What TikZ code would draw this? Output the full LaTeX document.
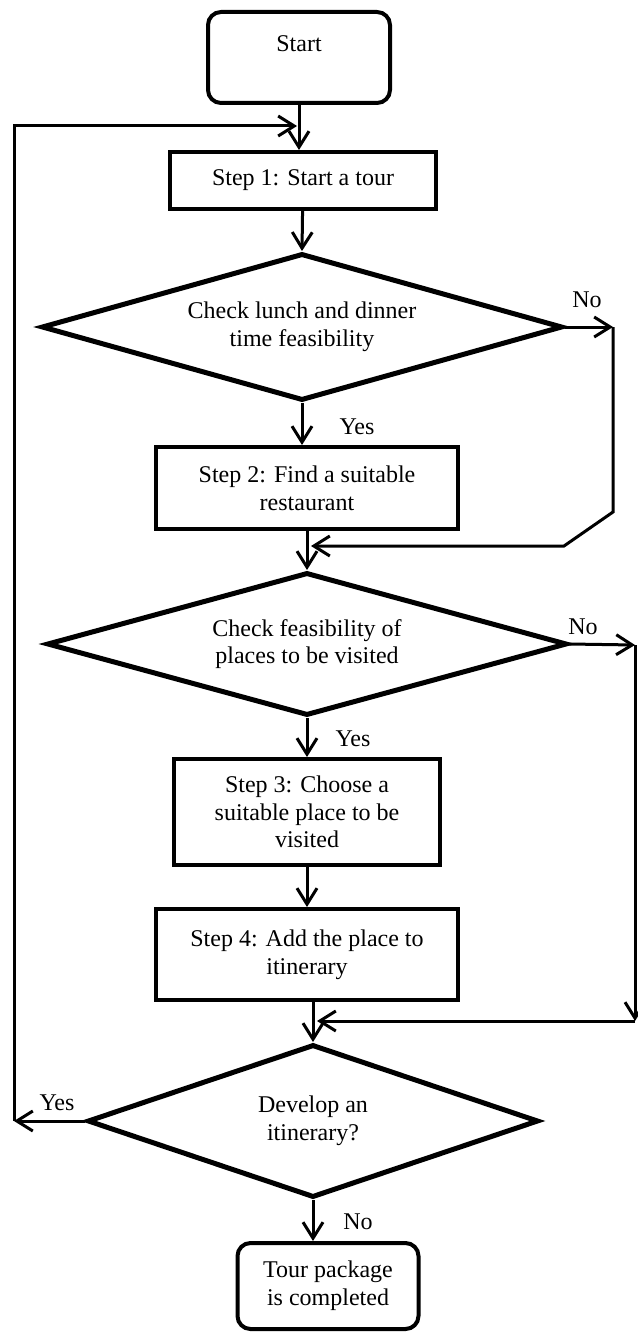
\documentclass[tikz,border=0pt]{standalone}
\usepackage{fontspec}
\setmainfont{Liberation Serif}
\usetikzlibrary{shapes.geometric, arrows.meta}

\begin{document}
\begin{tikzpicture}[x=0.5pt, y=-0.5pt,
        every node/.style={font=\fontsize{12}{13.8}\selectfont, align=center},
        terminal/.style={draw, rectangle, rounded corners=6.5pt, line width=2pt, inner sep=0pt},
        stepbox/.style={draw, rectangle, line width=2pt, inner sep=0pt},
        decision/.style={draw, diamond, aspect=3.5, line width=2.5pt, inner sep=0pt},
        flow/.style={line width=1.5pt, -{Straight Barb[length=8pt,width=10pt]}}]
            \useasboundingbox (0,0) rectangle (637,1332);
            \node[terminal, minimum width=91pt, minimum height=45.5pt] (start) at (299,57.5) {Start\\ \mbox{}};
            \node[stepbox, minimum width=133pt, minimum height=28.5pt] (step1) at (303,180.5) {Step 1: Start a tour};
            \node[decision, minimum width=260.5pt, minimum height=73.5pt] (chk1) at (302,327) {Check lunch and dinner\\time feasibility};
            \node[stepbox, minimum width=151pt, minimum height=41pt] (step2) at (307,488) {Step 2: Find a suitable\\restaurant};
            \node[decision, minimum width=260pt, minimum height=71.5pt] (chk2) at (307,644) {Check feasibility of\\places to be visited};
            \node[stepbox, minimum width=133pt, minimum height=53pt] (step3) at (307,812) {Step 3: Choose a\\suitable place to be\\visited};
            \node[stepbox, minimum width=151pt, minimum height=45.5pt] (step4) at (307,954.5) {Step 4: Add the place to\\itinerary};
            \node[decision, minimum width=225.5pt, minimum height=76.5pt] (chk3) at (313,1121) {Develop an\\itinerary?};
            \node[terminal, minimum width=90.5pt, minimum height=43pt] (finish) at (328,1286) {Tour package\\is completed};

            % loop corners
            \coordinate (lt) at (14,126);
            \coordinate (lb) at (14,1121);
            \coordinate (r1) at (613,327);
            \coordinate (r1b) at (613,512);
            \coordinate (r1c) at (564,546);
            \coordinate (r2) at (635,645);
            \coordinate (r2b) at (635,1021);

            \draw[flow] (start) -- (start |- step1.north);
            \draw[flow] (step1) -- (chk1.north);
            \draw[flow] (chk1) -- (chk1.south |- step2.north);
            \draw[flow] (step2) -- (step2.south |- chk2.north);
            \draw[flow] (chk2) -- (step3.north);
            \draw[flow] (step3) -- (step4.north);
            \draw[flow] (step4.south -| chk3) -- (chk3.north);
            \draw[flow] (chk3) -- (chk3.south |- finish.north);

            \draw[flow] (chk1.east) -- (r1);
            \draw[flow] (r1) -- (r1b) -- (r1c) -- ([xshift=2pt]r1c -| step2.south);
            \draw[flow] (chk2.east) -- (r2);
            \draw[flow] (r2) -- (r2b);
            \draw[flow] (r2b) -- ([xshift=2pt]r2b -| chk3.north);
            \draw[flow] (chk3.west) -- (lb);
            \draw[flow] (lb) -- (lt) -- ([xshift=-1pt]lt -| start);

            \node (no1) at (587,300) {No};
            \node (yes1) at (357,427) {Yes};
            \node (no2) at (583,627) {No};
            \node (yes2) at (353,739) {Yes};
            \node (yes3) at (57,1103) {Yes};
            \node (no3) at (358,1222) {No};
        \end{tikzpicture}
\end{document}
